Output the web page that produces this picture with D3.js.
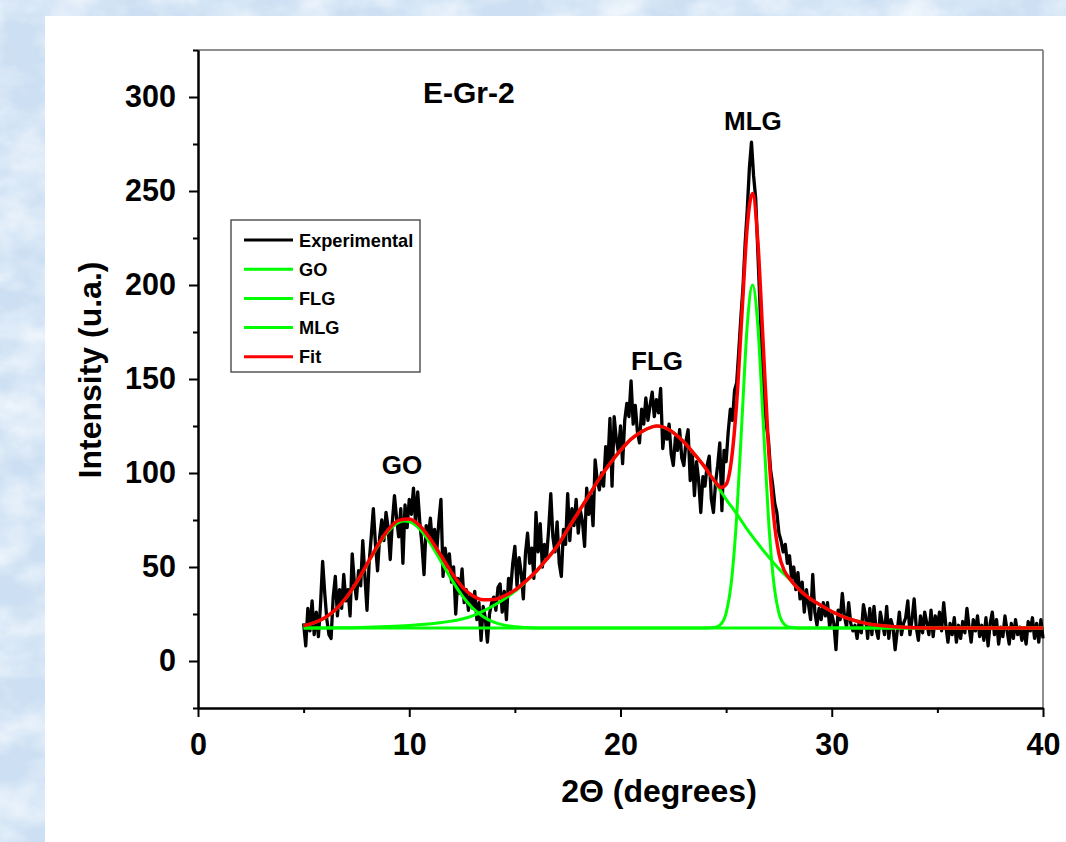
<!DOCTYPE html>
<html>
<head>
<meta charset="utf-8">
<script src="https://cdn.jsdelivr.net/npm/d3@7"></script>
<style>
  html, body { margin: 0; padding: 0; background: #fff; }
  svg { display: block; }
  text { font-family: 'Liberation Sans', Arial, Helvetica, sans-serif; font-weight: bold; fill: #000; }
</style>
</head>
<body>
<div id="chart"></div>
<script>
// DATA
const sampleName = 'E-Gr-2'
const xTicks = [0, 10, 20, 30, 40]
const xMinorTicks = [5, 15, 25, 35]
const yTicks = [0, 50, 100, 150, 200, 250, 300]
const yMinorTicks = [-25, 25, 75, 125, 175, 225, 275, 325]
const seriesNames = ['Experimental', 'GO', 'FLG', 'MLG', 'Fit']
const peakNames = ['GO', 'FLG', 'MLG']

// measured pattern, 2theta from 5 to 40 deg in 0.1 deg steps
const expStart = 5
const expStep = 0.1
const expIntensity = [
  20, 8, 28, 16, 32, 14, 26, 13, 30, 53,
  36, 22, 14, 12, 34, 45, 24, 38, 28, 46,
  32, 38, 24, 57, 42, 33, 48, 40, 64, 45,
  27, 52, 66, 81, 62, 48, 66, 75, 64, 79,
  71, 54, 74, 88, 76, 66, 81, 52, 83, 71,
  86, 78, 92, 73, 90, 74, 62, 46, 72, 66,
  76, 62, 70, 58, 74, 86, 45, 60, 50, 57,
  42, 50, 25, 44, 36, 49, 31, 38, 27, 35,
  28, 37, 22, 31, 11, 29, 23, 10, 25, 31,
  34, 27, 39, 41, 26, 37, 22, 44, 38, 52,
  61, 40, 55, 47, 33, 57, 68, 52, 60, 44,
  79, 58, 73, 50, 62, 55, 70, 89, 66, 58,
  74, 52, 45, 70, 62, 89, 64, 81, 72, 86,
  68, 80, 74, 61, 92, 78, 88, 72, 107, 96,
  91, 100, 93, 114, 104, 129, 93, 130, 118, 111,
  125, 105, 128, 137, 130, 149, 126, 136, 122, 116,
  134, 126, 140, 128, 136, 143, 130, 139, 132, 145,
  113, 124, 118, 126, 110, 104, 119, 112, 123, 108,
  104, 117, 123, 96, 110, 88, 106, 96, 79, 98,
  93, 104, 109, 86, 79, 95, 104, 116, 80, 112,
  106, 122, 134, 128, 144, 148, 165, 183, 199, 222,
  240, 262, 276, 258, 246, 218, 190, 162, 140, 126,
  118, 102, 94, 84, 79, 68, 64, 58, 62, 52,
  56, 44, 50, 38, 47, 33, 42, 26, 38, 30,
  22, 46, 26, 19, 28, 22, 31, 24, 31, 18,
  25, 20, 6, 27, 22, 36, 24, 18, 31, 20,
  16, 19, 12, 21, 15, 30, 24, 12, 28, 14,
  29, 17, 12, 26, 20, 14, 29, 12, 22, 18,
  6, 16, 26, 14, 20, 23, 32, 14, 22, 33,
  18, 11, 24, 15, 26, 20, 14, 27, 13, 24,
  18, 26, 16, 31, 19, 10, 20, 14, 23, 10,
  19, 12, 21, 15, 28, 18, 10, 22, 16, 24,
  13, 19, 11, 23, 8, 20, 26, 14, 22, 9,
  18, 13, 24, 16, 9, 20, 12, 22, 14, 18,
  11, 17, 9, 21, 16, 23, 12, 20, 10, 22,
  12
]

// fitted components [2theta, intensity]
const goCurve = [
  [5, 18.8], [5.5, 20.3], [6, 22.9], [6.5, 27.1], [7, 33.3], [7.5, 41.5], [8, 51.1],
  [8.5, 60.8], [9, 68.9], [9.5, 73.7], [9.8, 74.5], [10, 74.1], [10.5, 70.1], [11, 62.6],
  [11.5, 53.1], [12, 43.4], [12.5, 34.8], [13, 28.2], [13.5, 23.6], [14, 20.7],
  [14.5, 19.1], [15, 18.2], [15.5, 17.8], [16, 17.6], [17, 17.5], [40, 17.5]
]
const flgCurve = [
  [5, 17.5], [6, 17.6], [7, 17.7], [8, 17.9], [9, 18.3], [10, 18.9], [11, 19.8],
  [12, 21.2], [12.5, 22.3], [13, 24], [13.5, 26.5], [14, 29.5], [14.5, 33], [15, 37],
  [15.5, 42], [16, 47.5], [16.5, 54], [17, 61], [17.5, 70], [18, 79], [18.5, 88],
  [19, 97], [19.5, 105], [20, 112], [20.5, 118], [21, 122], [21.5, 124.5], [21.7, 125],
  [22, 124.5], [22.5, 121.5], [23, 116.5], [23.5, 110], [24, 103], [24.5, 94.7],
  [25, 86], [25.5, 78.3], [26, 70], [26.5, 62.5], [27, 55.5], [27.5, 49], [28, 43.5],
  [28.5, 37.5], [29, 33], [29.5, 29.5], [30, 26.3], [30.5, 23.8], [31, 21.8],
  [31.5, 20.3], [32, 19.3], [33, 18.2], [34, 17.7], [35, 17.5], [40, 17.5]
]
const mlgCurve = [
  [5, 17.5], [24, 17.5], [24.5, 17.9], [24.75, 19.5], [25, 25.5], [25.25, 42.2],
  [25.5, 76.7], [25.75, 128.2], [26, 178.5], [26.25, 200], [26.5, 178.5], [26.75, 128.2],
  [27, 76.7], [27.25, 42.2], [27.5, 25.5], [27.75, 19.5], [28, 17.9], [28.5, 17.5], [40, 17.5]
]
const fitCurve = [
  [5, 18.8], [5.5, 20.4], [6, 23], [6.5, 27.3], [7, 33.5], [7.5, 41.8], [8, 51.5],
  [8.5, 61.4], [9, 69.7], [9.5, 74.8], [10, 75.5], [10.5, 71.9], [11, 64.9], [11.5, 56.1],
  [12, 47.1], [12.5, 39.6], [13, 34.7], [13.5, 32.6], [14, 32.7], [14.5, 34.6],
  [15, 37.7], [15.5, 42.3], [16, 47.6], [16.5, 54], [17, 61], [17.5, 70], [18, 79],
  [18.5, 88], [19, 97], [19.5, 105], [20, 112], [20.5, 118], [21, 122], [21.5, 124.5],
  [21.7, 125], [22, 124.5], [22.5, 121.5], [23, 116.5], [23.5, 110], [24, 103],
  [24.5, 95.1], [24.75, 92.3], [25, 94], [25.25, 106.8], [25.5, 137.5], [25.75, 184.8],
  [26, 231], [26.25, 248.7], [26.5, 223.5], [26.75, 169.7], [27, 114.7], [27.25, 76.9],
  [27.5, 57], [27.75, 48.2], [28, 43.9], [28.5, 37.5], [29, 33], [29.5, 29.5],
  [30, 26.3], [30.5, 23.8], [31, 21.8], [31.5, 20.3], [32, 19.3], [33, 18.2],
  [34, 17.7], [35, 17.5], [40, 17.5]
]

let width = 1066
let height = 842
let margin = { top: 50, right: 23, bottom: 134, left: 198 }
let innerWidth = width - margin.left - margin.right
let innerHeight = height - margin.top - margin.bottom

let colors = ['#000000', '#00ff00', '#00ff00', '#00ff00', '#ff0000']

function translation (x, y) {
  return 'translate(' + x + ',' + y + ')'
}

let svg = d3.select('#chart').append('svg')
  .attr('width', width)
  .attr('height', height)

// BACKGROUND (pale blue marble behind the white page)
let defs = svg.append('defs')
let marble = defs.append('filter')
  .attr('id', 'marble')
  .attr('x', 0).attr('y', 0).attr('width', '100%').attr('height', '100%')
marble.append('feTurbulence')
  .attr('type', 'fractalNoise')
  .attr('baseFrequency', '0.02 0.028')
  .attr('numOctaves', 4)
  .attr('seed', 11)
marble.append('feColorMatrix')
  .attr('type', 'matrix')
  .attr('values', '0 0 0 0 0.94  0 0 0 0 0.97  0 0 0 0 1  0 0 0 1.5 -0.5')

svg.append('rect')
  .attr('width', width)
  .attr('height', height)
  .attr('fill', '#cde0f3')
svg.append('rect')
  .attr('width', width)
  .attr('height', height)
  .attr('filter', 'url(#marble)')
svg.append('rect')
  .attr('x', 45)
  .attr('y', 16)
  .attr('width', width - 45)
  .attr('height', height - 16)
  .attr('fill', '#ffffff')

// SCALES
let x = d3.scaleLinear().domain([0, 40]).range([0, innerWidth])
let y = d3.scaleLinear().domain([-25, 325]).range([innerHeight, 0])

let g = svg.append('g')
  .attr('transform', translation(margin.left, margin.top))

// FRAME (top and right)
g.append('line')
  .attr('x1', x(0)).attr('x2', x(40))
  .attr('y1', y(325)).attr('y2', y(325))
  .attr('stroke', '#6a6a6a').attr('stroke-width', 1.5)
g.append('line')
  .attr('x1', x(40)).attr('x2', x(40))
  .attr('y1', y(325)).attr('y2', y(-25))
  .attr('stroke', '#6a6a6a').attr('stroke-width', 1.5)

// CURVES
let lineExp = d3.line()
  .x(function (d, i) { return x(expStart + i * expStep) })
  .y(function (d) { return y(d) })

let lineFit = d3.line()
  .x(function (d) { return x(d[0]) })
  .y(function (d) { return y(d[1]) })
  .curve(d3.curveMonotoneX)

g.append('path')
  .datum(expIntensity)
  .attr('d', lineExp)
  .attr('fill', 'none')
  .attr('stroke', colors[0])
  .attr('stroke-width', 3.3)
  .attr('stroke-linejoin', 'round')

let fits = [goCurve, flgCurve, mlgCurve, fitCurve]
fits.forEach(function (c, i) {
  g.append('path')
    .datum(c)
    .attr('d', lineFit)
    .attr('fill', 'none')
    .attr('stroke', colors[i + 1])
    .attr('stroke-width', i === 3 ? 3.5 : 3)
})

// SET UP AXES
let xAxis = d3.axisBottom(x).tickValues(xTicks).tickSize(9).tickSizeOuter(0).tickPadding(16)
let xAxisMinor = d3.axisBottom(x).tickValues(xMinorTicks).tickSize(5).tickSizeOuter(0).tickFormat('')
let yAxis = d3.axisLeft(y).tickValues(yTicks).tickSize(9).tickSizeOuter(0).tickPadding(13)
let yAxisMinor = d3.axisLeft(y).tickValues(yMinorTicks).tickSize(5).tickSizeOuter(0).tickFormat('')

// DRAW AXES
function styleAxis (sel) {
  sel.selectAll('path').attr('stroke', '#000').attr('stroke-width', 2)
  sel.selectAll('line').attr('stroke', '#000').attr('stroke-width', 2)
  sel.selectAll('text').attr('font-size', 30.5).attr('fill', '#000')
    .attr('font-family', "'Liberation Sans', Arial, sans-serif").attr('font-weight', 'bold')
}

g.append('g').attr('transform', translation(0, innerHeight)).call(xAxisMinor).call(styleAxis)
g.append('g').attr('transform', translation(0, innerHeight)).call(xAxis).call(styleAxis)
g.append('g').call(yAxisMinor).call(styleAxis)
g.append('g').call(yAxis).call(styleAxis)

// AXIS TITLES
svg.append('text')
  .attr('x', 659)
  .attr('y', 802)
  .attr('text-anchor', 'middle')
  .attr('font-size', 32)
  .text('2\u0398 (degrees)')

svg.append('text')
  .attr('transform', translation(101, 370) + ' rotate(-90)')
  .attr('text-anchor', 'middle')
  .attr('font-size', 32)
  .text('Intensity (u.a.)')

// ANNOTATIONS
g.append('text')
  .attr('x', x(10.65))
  .attr('y', y(297))
  .attr('font-size', 30)
  .text(sampleName)

let peakPos = [[9.66, 99.5], [21.73, 155], [26.27, 282.7]]
peakNames.forEach(function (name, i) {
  g.append('text')
    .attr('x', x(peakPos[i][0]))
    .attr('y', y(peakPos[i][1]))
    .attr('text-anchor', 'middle')
    .attr('font-size', 26)
    .text(name)
})

// DRAW LEGEND
let legend = svg.append('g')
  .attr('transform', translation(231, 220))
legend.append('rect')
  .attr('width', 189)
  .attr('height', 152)
  .attr('fill', '#fff')
  .attr('stroke', '#555')
  .attr('stroke-width', 1.5)

seriesNames.forEach(function (name, i) {
  let item = legend.append('g')
    .attr('transform', translation(13, 20 + i * 29.2))
  item.append('line')
    .attr('x1', 0).attr('x2', 49)
    .attr('y1', 0).attr('y2', 0)
    .attr('stroke', colors[i])
    .attr('stroke-width', 3)
  item.append('text')
    .attr('x', 55)
    .attr('y', 6.5)
    .attr('font-size', 18.2)
    .text(name)
})
</script>
</body>
</html>
